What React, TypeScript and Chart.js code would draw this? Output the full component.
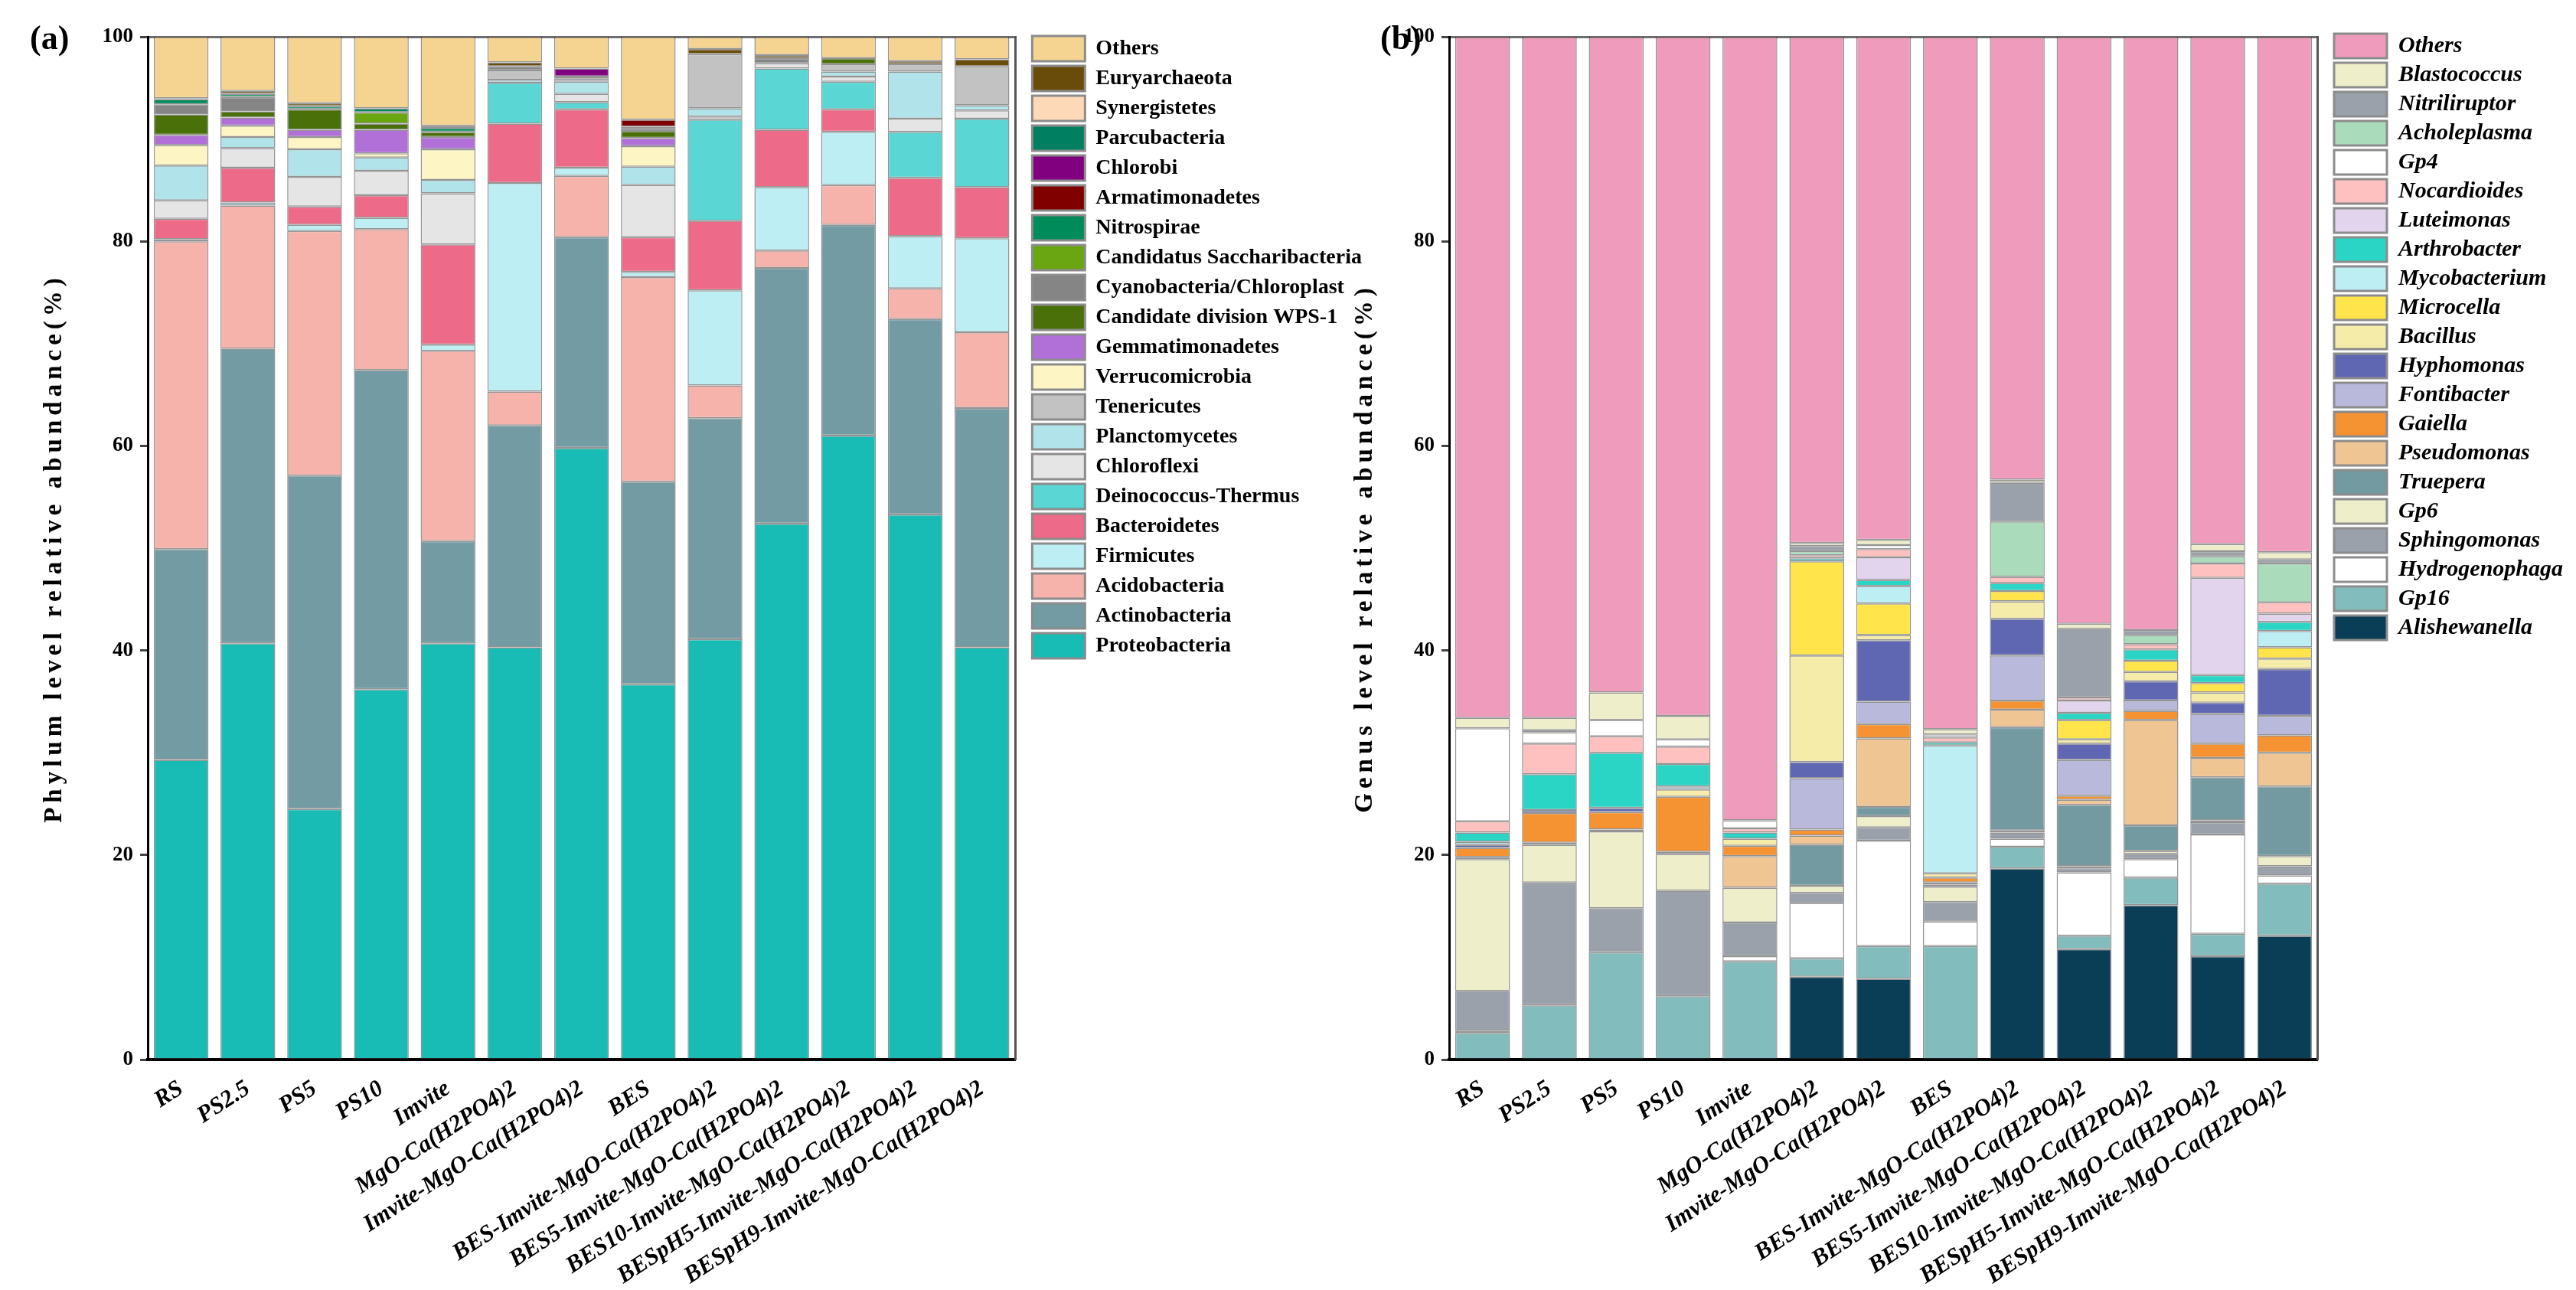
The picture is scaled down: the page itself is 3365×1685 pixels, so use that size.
import React, { useEffect, useRef } from 'react';
import { Chart, registerables } from 'chart.js';

Chart.register(...registerables);

const FONT = "'Liberation Serif', 'Times New Roman', serif";

// ---------- categories ----------
const samples = [
  'RS', 'PS2.5', 'PS5', 'PS10', 'Imvite', 'MgO-Ca(H2PO4)2', 'Imvite-MgO-Ca(H2PO4)2', 'BES',
  'BES-Imvite-MgO-Ca(H2PO4)2', 'BES5-Imvite-MgO-Ca(H2PO4)2', 'BES10-Imvite-MgO-Ca(H2PO4)2',
  'BESpH5-Imvite-MgO-Ca(H2PO4)2', 'BESpH9-Imvite-MgO-Ca(H2PO4)2',
];
const yTicks = [0, 20, 40, 60, 80, 100];

// ---------- (a) phylum level, bottom -> top ----------
const proteobacteria = [29.3, 40.7, 24.5, 36.2, 40.7, 40.3, 59.8, 36.7, 41.1, 52.4, 61.0, 53.3, 40.3];
const actinobacteria = [20.6, 28.8, 32.6, 31.2, 10.0, 21.7, 20.6, 19.8, 21.6, 25.0, 20.6, 19.1, 23.4];
const acidobacteria = [30.1, 14.0, 23.9, 13.8, 18.6, 3.3, 6.0, 20.0, 3.2, 1.7, 3.9, 3.0, 7.4];
const firmicutes = [0.2, 0.3, 0.6, 1.1, 0.6, 20.4, 0.8, 0.5, 9.3, 6.2, 5.2, 5.1, 9.2];
const bacteroidetes = [2.0, 3.4, 1.8, 2.2, 9.8, 5.8, 5.7, 3.4, 6.8, 5.6, 2.2, 5.7, 5.0];
const deinococcus = [0, 0, 0, 0, 0, 4.0, 0.7, 0, 9.9, 6.0, 2.7, 4.5, 6.7];
const chloroflexi = [1.8, 1.9, 2.9, 2.4, 5.0, 0, 0.8, 5.1, 0.3, 0.5, 0.5, 1.3, 0.8];
const planctomycetes = [3.4, 1.1, 2.7, 1.3, 1.3, 0.3, 1.2, 1.8, 0.8, 0, 0.5, 4.6, 0.5];
const tenericutes = [0, 0, 0, 0, 0, 0.9, 0.3, 0, 5.3, 0, 0.7, 0.7, 3.8];
const verrucomicrobia = [2.0, 1.1, 1.2, 0.4, 3.0, 0, 0, 2.0, 0, 0, 0, 0, 0];
const gemmatimonadetes = [1.0, 0.8, 0.7, 2.3, 1.2, 0, 0.2, 0.8, 0, 0, 0, 0, 0];
const wps1 = [2.0, 0.6, 2.0, 0.6, 0.5, 0, 0, 0.7, 0, 0, 0.6, 0, 0];
const cyanobacteria = [1.0, 1.4, 0, 0, 0, 0.4, 0, 0, 0, 0.5, 0, 0, 0];
const saccharibacteria = [0, 0, 0, 1.1, 0, 0, 0, 0.2, 0, 0, 0, 0, 0];
const nitrospirae = [0.5, 0.3, 0.3, 0.4, 0.4, 0, 0, 0.2, 0, 0, 0, 0, 0];
const armatimonadetes = [0, 0, 0, 0, 0, 0, 0, 0.7, 0, 0, 0, 0, 0];
const chlorobi = [0, 0, 0, 0, 0, 0, 0.8, 0, 0, 0, 0, 0, 0];
const parcubacteria = [0, 0, 0, 0, 0, 0, 0, 0, 0, 0, 0, 0, 0];
const synergistetes = [0, 0, 0, 0, 0, 0, 0, 0, 0, 0, 0, 0, 0];
const euryarchaeota = [0.1, 0.3, 0.3, 0, 0.2, 0.4, 0, 0, 0.5, 0.3, 0, 0.3, 0.7];
const phylumOthers = [6.0, 5.3, 6.5, 7.0, 8.7, 2.5, 3.1, 8.1, 1.2, 1.8, 2.1, 2.4, 2.2];

const phylumNames = [
  'Proteobacteria', 'Actinobacteria', 'Acidobacteria', 'Firmicutes', 'Bacteroidetes',
  'Deinococcus-Thermus', 'Chloroflexi', 'Planctomycetes', 'Tenericutes', 'Verrucomicrobia',
  'Gemmatimonadetes', 'Candidate division WPS-1', 'Cyanobacteria/Chloroplast',
  'Candidatus Saccharibacteria', 'Nitrospirae', 'Armatimonadetes', 'Chlorobi', 'Parcubacteria',
  'Synergistetes', 'Euryarchaeota', 'Others',
];
const phylumValues = [
  proteobacteria, actinobacteria, acidobacteria, firmicutes, bacteroidetes, deinococcus,
  chloroflexi, planctomycetes, tenericutes, verrucomicrobia, gemmatimonadetes, wps1,
  cyanobacteria, saccharibacteria, nitrospirae, armatimonadetes, chlorobi, parcubacteria,
  synergistetes, euryarchaeota, phylumOthers,
];
const phylumColors = [
  '#18bcb4', '#739ba3', '#f6b3ac', '#bdeef4', '#ed6b88', '#5ad6d5', '#e5e5e5', '#b1e4ea',
  '#c2c2c2', '#fdf5c4', '#b070d8', '#4a7009', '#858585', '#6aa512', '#008b5a', '#800000',
  '#800080', '#008060', '#fed9b7', '#6a4c0a', '#f5d491',
];

// ---------- (b) genus level, bottom -> top ----------
const alishewanella = [0, 0, 0, 0, 0, 8.1, 7.9, 0, 18.7, 10.8, 15.1, 10.1, 12.1];
const gp16 = [2.6, 5.3, 10.5, 6.2, 9.6, 1.8, 3.2, 11.1, 2.1, 1.3, 2.7, 2.2, 5.1];
const hydrogenophaga = [0.2, 0, 0, 0, 0.5, 5.4, 10.3, 2.4, 0.8, 6.2, 1.8, 9.7, 0.8];
const sphingomonas = [3.9, 12.0, 4.3, 10.3, 3.3, 1.0, 1.3, 1.9, 0.6, 0.4, 0.5, 1.2, 0.9];
const gp6 = [12.9, 3.7, 7.5, 3.6, 3.4, 0.7, 1.1, 1.5, 0.2, 0.2, 0.3, 0.2, 1.0];
const truepera = [0.2, 0.2, 0.2, 0.2, 0, 4.0, 0.9, 0.2, 10.1, 6.0, 2.5, 4.2, 6.8];
const pseudomonas = [0, 0, 0, 0, 3.1, 0.9, 6.7, 0.2, 1.7, 0.5, 10.3, 1.9, 3.3];
const gaiella = [0.9, 2.9, 1.7, 5.4, 1.0, 0.6, 1.4, 0.5, 0.9, 0.4, 0.9, 1.4, 1.7];
const fontibacter = [0, 0, 0, 0, 0, 5.0, 2.2, 0, 4.4, 3.5, 1.0, 2.9, 1.9];
const hyphomonas = [0.3, 0.3, 0.4, 0, 0, 1.6, 6.0, 0, 3.6, 1.6, 1.9, 1.1, 4.6];
const bacillus = [0, 0, 0, 0.7, 0.7, 10.4, 0.5, 0.4, 1.7, 0.4, 0.9, 1.0, 1.0];
const microcella = [0, 0, 0, 0, 0, 9.2, 3.1, 0, 1.0, 1.9, 1.1, 0.9, 1.1];
const mycobacterium = [0.3, 0, 0, 0.3, 0, 0, 1.7, 12.5, 0, 0, 0, 0, 1.6];
const arthrobacter = [0.9, 3.5, 5.4, 2.2, 0.6, 0.3, 0.6, 0.3, 0.8, 0.7, 1.1, 0.8, 0.9];
const luteimonas = [0, 0, 0, 0, 0, 0, 2.2, 0, 0, 1.2, 0, 9.5, 0.8];
const nocardioides = [1.1, 3.0, 1.6, 1.7, 0.4, 0.3, 0.8, 0.5, 0.6, 0.3, 0.5, 1.4, 1.1];
const gp4 = [9.1, 1.1, 1.6, 0.7, 0.8, 0, 0.4, 0.3, 0, 0, 0, 0, 0];
const acholeplasma = [0, 0, 0, 0, 0, 0.4, 0, 0, 5.4, 0, 0.9, 0.7, 3.8];
const nitriliruptor = [0, 0.2, 0, 0, 0, 0.5, 0, 0, 3.8, 6.7, 0.5, 0.5, 0.4];
const blastococcus = [1.0, 1.2, 2.7, 2.3, 0, 0.3, 0.5, 0.5, 0.3, 0.5, 0, 0.7, 0.7];
const genusOthers = [66.6, 66.6, 64.1, 66.4, 76.6, 49.5, 49.2, 67.7, 43.3, 57.4, 58.0, 49.6, 50.4];

const genusNames = [
  'Alishewanella', 'Gp16', 'Hydrogenophaga', 'Sphingomonas', 'Gp6', 'Truepera', 'Pseudomonas',
  'Gaiella', 'Fontibacter', 'Hyphomonas', 'Bacillus', 'Microcella', 'Mycobacterium',
  'Arthrobacter', 'Luteimonas', 'Nocardioides', 'Gp4', 'Acholeplasma', 'Nitriliruptor',
  'Blastococcus', 'Others',
];
const genusValues = [
  alishewanella, gp16, hydrogenophaga, sphingomonas, gp6, truepera, pseudomonas, gaiella,
  fontibacter, hyphomonas, bacillus, microcella, mycobacterium, arthrobacter, luteimonas,
  nocardioides, gp4, acholeplasma, nitriliruptor, blastococcus, genusOthers,
];
const genusColors = [
  '#0a3d56', '#82bcbc', '#ffffff', '#9aa1aa', '#eeeecb', '#7399a1', '#f0c594', '#f59232',
  '#b9b9dc', '#6067b2', '#f6ecaa', '#ffe44c', '#bdeef4', '#2bd5c5', '#e3d4ee', '#ffc0c0',
  '#ffffff', '#aadcbb', '#9aa1aa', '#eeeecb', '#ef9bbb',
];

type PanelProps = {
  left: number;
  names: string[];
  values: number[][];
  colors: string[];
  yTitle: string;
  padLeft: number;
  yWidth: number;
  boxX: number;
  boxH: number;
  padTop: number;
  topAxisH: number;
  rightGap: number;
  italicLegend: boolean;
  legFont: number;
};

const CANVAS_H = 1685;
const PLOT_BOTTOM = 1384;
const BOX_W = 69;
const LEG_PAD = 6;
const TITLE_SIZE = 33;
const TITLE_SPACING = 6;

function StackedPanel(p: PanelProps) {
  const ref = useRef<HTMLCanvasElement>(null);
  useEffect(() => {
    const canvas = ref.current!;
    const style = p.italicLegend ? 'italic' : 'normal';
    const m = document.createElement('canvas').getContext('2d')!;
    m.font = `${style} bold ${p.legFont}px ${FONT}`;
    const maxText = Math.max(...p.names.map((n) => m.measureText(n).width));
    const width = Math.ceil(p.boxX + BOX_W + p.legFont / 2 + maxText + 10);
    canvas.width = width;
    canvas.height = CANVAS_H;
    canvas.style.width = width + 'px';
    canvas.style.height = CANVAS_H + 'px';

    const chart = new Chart(canvas, {
      type: 'bar',
      data: {
        labels: samples,
        datasets: p.names.map((n, i) => ({
          label: n,
          data: p.values[i],
          backgroundColor: p.colors[i],
          borderColor: 'rgba(60,60,60,0.55)',
          borderWidth: 1.5,
          borderSkipped: false,
          barPercentage: 0.82,
          categoryPercentage: 1,
        })),
      },
      options: {
        animation: false,
        responsive: false,
        devicePixelRatio: 1,
        events: [],
        layout: { padding: { left: p.padLeft, top: p.padTop, right: 0, bottom: 0 } },
        plugins: {
          tooltip: { enabled: false },
          title: { display: false },
          legend: {
            display: true,
            position: 'right',
            align: 'start',
            reverse: true,
            maxWidth: 2000,
            labels: {
              boxWidth: BOX_W,
              boxHeight: p.boxH,
              padding: LEG_PAD,
              color: '#000',
              font: { family: FONT, size: p.legFont, weight: 'bold', style: style as any },
              generateLabels: (c: any) =>
                Chart.defaults.plugins.legend.labels
                  .generateLabels(c)
                  .map((l: any) => ({ ...l, lineWidth: 3, strokeStyle: '#8c8c8c' })),
            },
          },
        },
        scales: {
          x: {
            stacked: true,
            position: 'bottom',
            grid: { display: false },
            border: { display: true, color: '#000', width: 4 },
            ticks: {
              color: '#000',
              autoSkip: false,
              minRotation: 33,
              maxRotation: 33,
              padding: 12,
              font: { family: FONT, size: 31, weight: 'bold', style: 'italic' },
            },
            afterFit: (s: any) => {
              s.height = CANVAS_H - PLOT_BOTTOM;
            },
          },
          x2: {
            type: 'category',
            position: 'top',
            grid: { display: false },
            ticks: { display: false },
            border: { display: true, color: '#6e6e6e', width: 3 },
            afterFit: (s: any) => {
              s.height = p.topAxisH;
            },
          },
          y: {
            stacked: true,
            min: 0,
            max: 100,
            afterBuildTicks: (s: any) => {
              s.ticks = yTicks.map((v) => ({ value: v }));
            },
            ticks: {
              color: '#000',
              padding: 9,
              font: { family: FONT, size: 27, weight: 'bold' },
            },
            grid: {
              display: true,
              drawOnChartArea: false,
              drawTicks: true,
              tickLength: 10,
              tickColor: '#444',
              tickWidth: 3,
            },
            border: { display: true, color: '#000', width: 3 },
            title: {
              display: true,
              text: p.yTitle,
              color: '#000',
              padding: 0,
              font: { family: FONT, size: TITLE_SIZE, weight: 'bold' },
            },
            afterFit: (s: any) => {
              s.width = p.yWidth;
              if (!s.__spaced) {
                const orig = s.drawTitle.bind(s);
                s.drawTitle = () => {
                  const ctx = s.ctx;
                  ctx.save();
                  ctx.letterSpacing = TITLE_SPACING + 'px';
                  orig();
                  ctx.restore();
                };
                s.__spaced = true;
              }
            },
          },
          y2: {
            type: 'linear',
            position: 'right',
            min: 0,
            max: 100,
            grid: { display: false },
            ticks: { display: false },
            border: { display: true, color: '#555', width: 3 },
            afterFit: (s: any) => {
              s.width = p.rightGap;
            },
          },
        },
      } as any,
    });
    return () => chart.destroy();
  }, []);
  return (
    <canvas
      ref={ref}
      style={{ position: 'absolute', left: p.left, top: 0 }}
    />
  );
}

export default function App() {
  const panelLabel = (text: string, left: number) => (
    <div
      style={{
        position: 'absolute',
        left,
        top: 28,
        font: `bold 44px ${FONT}`,
        lineHeight: '44px',
        color: '#000',
      }}
    >
      {text}
    </div>
  );
  return (
    <div
      style={{
        position: 'fixed',
        left: 0,
        top: 0,
        width: 3365,
        height: 1685,
        overflow: 'hidden',
        background: '#fff',
      }}
    >
      <StackedPanel
        left={0}
        names={phylumNames}
        values={phylumValues}
        colors={phylumColors}
        yTitle="Phylum level relative abundance(%)"
        padLeft={52}
        yWidth={141}
        boxX={1348}
        boxH={33}
        padTop={41}
        topAxisH={7}
        rightGap={16}
        italicLegend={false}
        legFont={28}
      />
      <StackedPanel
        left={1760}
        names={genusNames}
        values={genusValues}
        colors={genusColors}
        yTitle="Genus level relative abundance(%)"
        padLeft={4}
        yWidth={129}
        boxX={1288}
        boxH={32}
        padTop={38}
        topAxisH={10}
        rightGap={15}
        italicLegend={true}
        legFont={30}
      />
      {panelLabel('(a)', 39)}
      {panelLabel('(b)', 1803)}
    </div>
  );
}
